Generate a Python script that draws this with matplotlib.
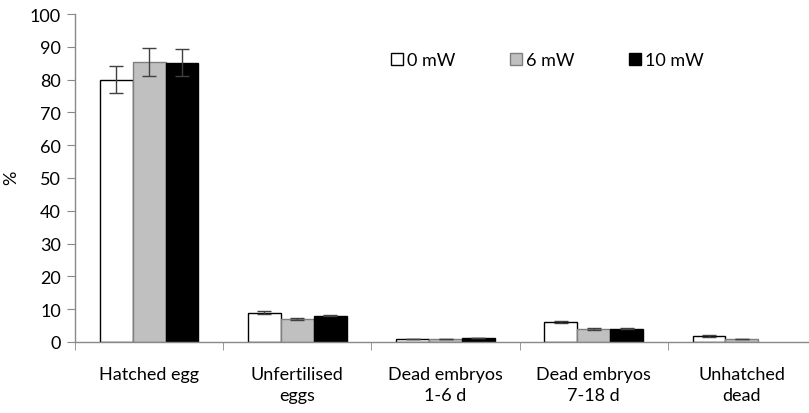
import numpy as np
import matplotlib
matplotlib.use("Agg")
import matplotlib.pyplot as plt

plt.rcParams['font.family'] = ['Lato', 'DejaVu Sans']

# categories and series
categories = ["Hatched egg", "Unfertilised\neggs", "Dead embryos\n1-6 d",
              "Dead embryos\n7-18 d", "Unhatched\ndead"]
series = ["0 mW", "6 mW", "10 mW"]
vals_0 = [80, 8.9, 0.9, 6.0, 1.8]
vals_6 = [85.3, 6.9, 0.9, 4.0, 0.9]
vals_10 = [85.2, 8.0, 1.2, 4.1, np.nan]
err_0 = [4.2, 0.5, 0.1, 0.3, 0.2]
err_6 = [4.2, 0.3, 0.1, 0.2, 0.1]
err_10 = [4.2, 0.2, 0.1, 0.1, np.nan]

face = ["white", "#c0c0c0", "black"]
edge = ["black", "#7f7f7f", "black"]

fig = plt.figure(figsize=(8.09, 4.14), dpi=100)
ax = fig.add_axes([75/809, 71/414, 741/809, 328/414])

x = np.arange(len(categories))
w = 0.222
allv = [vals_0, vals_6, vals_10]
alle = [err_0, err_6, err_10]
handles = []
for i in range(3):
    b = ax.bar(x + (i - 1) * w, allv[i], w, color=face[i], edgecolor=edge[i],
               linewidth=1.0, label=series[i], zorder=2)
    handles.append(b)
    ax.errorbar(x + (i - 1) * w, allv[i], yerr=alle[i], fmt='none',
                ecolor="#404040", elinewidth=1.0, capsize=5, capthick=1.0, zorder=3)

ax.set_xlim(-0.5, len(categories) - 0.5)
ax.set_ylim(0, 100)
ax.set_yticks(range(0, 101, 10))
ax.set_xticks(x)
ax.set_xticklabels(categories, fontsize=13, linespacing=1.4)
ax.set_xticks(np.arange(-0.5, len(categories), 1), minor=True)
ax.tick_params(axis='x', which='major', length=0, pad=17)
ax.tick_params(axis='x', which='minor', length=6, color="#898989", direction='out')
ax.tick_params(axis='y', length=6, color="#898989", labelsize=13, pad=4)
ax.set_ylabel("%", fontsize=13)
ax.yaxis.set_label_coords(-0.0756, 0.503)

for s in ['top', 'right']:
    ax.spines[s].set_visible(False)
for s in ['left', 'bottom']:
    ax.spines[s].set_color("#898989")
    ax.spines[s].set_linewidth(1.0)

leg = fig.legend(handles=handles, labels=series, ncol=3, frameon=False,
                 loc='center left', bbox_to_anchor=(384/809, 1 - 61/414),
                 fontsize=13, handlelength=0.65, handleheight=0.65,
                 handletextpad=0.25, columnspacing=3.0, borderaxespad=0)

fig.savefig("out.png", dpi=100)
